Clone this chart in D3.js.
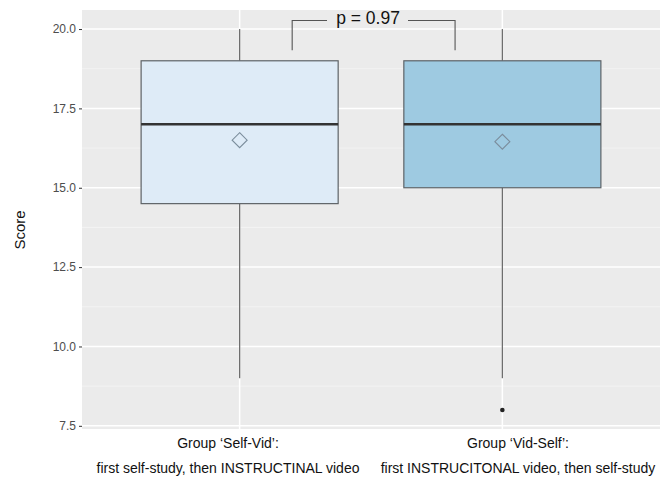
<!DOCTYPE html>
<html><head><meta charset="utf-8">
<script src="https://cdn.jsdelivr.net/npm/d3@7"></script>
<style>body{margin:0;background:#fff}svg{display:block}</style>
</head><body><svg id="c" width="660" height="482"></svg>
<script>
const categories = ["Self-Vid", "Vid-Self"];
const labelLine1 = ["Group \u2018Self-Vid\u2019:", "Group \u2018Vid-Self\u2019:"];
const labelLine2 = ["first self-study, then INSTRUCTINAL video", "first INSTRUCITONAL video, then self-study"];
const q1 = [14.5, 15];
const medians = [17, 17];
const q3 = [19, 19];
const whiskerLow = [9, 9];
const whiskerHigh = [20, 20];
const means = [16.5, 16.45];
const outliers = [[], [8]];
const fills = ["#DEEBF7", "#9ECAE1"];
const yTicks = [7.5, 10, 12.5, 15, 17.5, 20];
const yMinor = [8.75, 11.25, 13.75, 16.25, 18.75];
const pText = "p = 0.97";

const FONT = "Liberation Sans, Arial, sans-serif";
const svg = d3.select("#c");
const L = 82, R = 660, T = 10, B = 429;
const x = d3.scaleLinear().domain([0.4, 2.6]).range([L, R]);
const y = d3.scaleLinear().domain([7.4, 20.6]).range([B, T]);
const bw = x(1.375) - x(1);

svg.append("rect").attr("x", L).attr("y", T).attr("width", R - L).attr("height", B - T).attr("fill", "#EBEBEB");
svg.selectAll(".mn").data(yMinor).enter().append("line")
  .attr("x1", L).attr("x2", R).attr("y1", d => y(d)).attr("y2", d => y(d))
  .attr("stroke", "#F5F5F5").attr("stroke-width", 0.8);
svg.selectAll(".mj").data(yTicks).enter().append("line")
  .attr("x1", L).attr("x2", R).attr("y1", d => y(d)).attr("y2", d => y(d))
  .attr("stroke", "#FFFFFF").attr("stroke-width", 1.5);
svg.selectAll(".vx").data(categories).enter().append("line")
  .attr("x1", (d, i) => x(i + 1)).attr("x2", (d, i) => x(i + 1)).attr("y1", T).attr("y2", B)
  .attr("stroke", "#FFFFFF").attr("stroke-width", 1.5);

// y axis
const yAxis = d3.axisLeft(y).tickValues(yTicks).tickFormat(d3.format(".1f")).tickSize(3).tickPadding(3);
const ga = svg.append("g").attr("transform", `translate(${L},0)`).call(yAxis);
ga.select(".domain").remove();
ga.selectAll(".tick line").attr("stroke", "#333").attr("stroke-width", 1);
ga.selectAll(".tick text").attr("fill", "#4D4D4D").style("font-family", FONT).style("font-size", "12px");

// boxes
categories.forEach((c, i) => {
  const cx = x(i + 1);
  const g = svg.append("g");
  g.append("line").attr("x1", cx).attr("x2", cx).attr("y1", y(whiskerHigh[i])).attr("y2", y(q3[i])).attr("stroke", "#6E6E6E").attr("stroke-width", 1.3);
  g.append("line").attr("x1", cx).attr("x2", cx).attr("y1", y(q1[i])).attr("y2", y(whiskerLow[i])).attr("stroke", "#6E6E6E").attr("stroke-width", 1.3);
  g.append("rect").attr("x", cx - bw).attr("width", 2 * bw).attr("y", y(q3[i])).attr("height", y(q1[i]) - y(q3[i]))
    .attr("fill", fills[i]).attr("stroke", "#5E6367").attr("stroke-width", 1.2);
  g.append("line").attr("x1", cx - bw).attr("x2", cx + bw).attr("y1", y(medians[i])).attr("y2", y(medians[i])).attr("stroke", "#333").attr("stroke-width", 2.4);
  g.append("path").attr("d", d3.symbol(d3.symbolDiamond2, 143)()).attr("transform", `translate(${cx},${y(means[i])})`)
    .attr("fill", "none").attr("stroke", "#7B8D9C").attr("stroke-width", 1.1);
  outliers[i].forEach(o => {
    g.append("circle").attr("cx", cx).attr("cy", y(o)).attr("r", 2.3).attr("fill", "#222");
  });
});

// bracket
const bx1 = x(1.2), bx2 = x(1.82), byTop = y(20.27), byBot = y(19.33);
const tx = 368;
svg.append("path").attr("d", `M${bx1},${byBot}V${byTop}H${tx - 41}M${tx + 40},${byTop}H${bx2}V${byBot}`)
  .attr("fill", "none").attr("stroke", "#555").attr("stroke-width", 1.1);
svg.append("text").attr("x", tx).attr("y", byTop + 3.8).attr("text-anchor", "middle")
  .style("font-family", FONT).style("font-size", "17.5px").attr("fill", "#111").text(pText);

// x labels
const labelX = [228, 518];
categories.forEach((c, i) => {
  svg.append("text").attr("x", labelX[i]).attr("y", 448).attr("text-anchor", "middle")
    .style("font-family", FONT).style("font-size", "14px").attr("fill", "#111").text(labelLine1[i]);
  svg.append("text").attr("x", labelX[i]).attr("y", 473).attr("text-anchor", "middle")
    .style("font-family", FONT).style("font-size", "14px").attr("fill", "#111").text(labelLine2[i]);
});

// y title
svg.append("text").attr("transform", "translate(25,230) rotate(-90)").attr("text-anchor", "middle")
  .style("font-family", FONT).style("font-size", "15px").attr("fill", "#111").text("Score");
</script></body></html>
